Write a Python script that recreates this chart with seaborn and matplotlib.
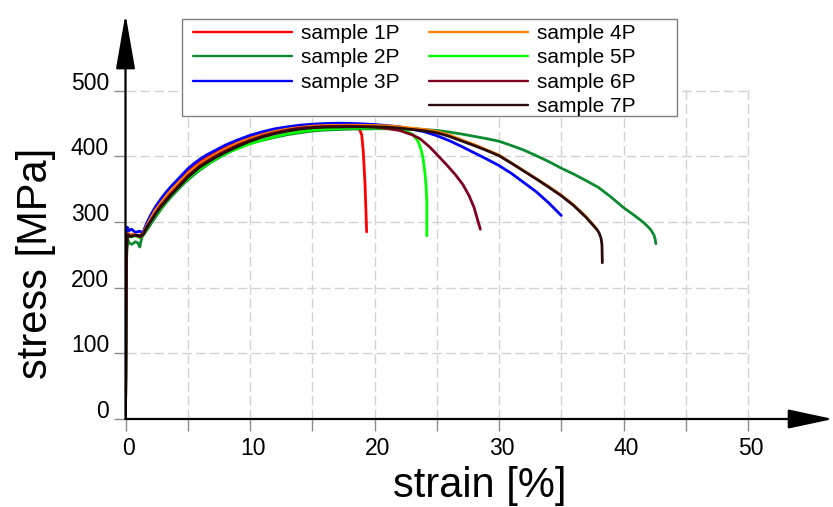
import numpy as np
import pandas as pd
import matplotlib
matplotlib.use("Agg")
import matplotlib.pyplot as plt
import seaborn as sns
from matplotlib.lines import Line2D
from matplotlib.patches import Rectangle
from matplotlib.transforms import ScaledTranslation

# ---------------- data ----------------
samples = ["sample 1P", "sample 2P", "sample 3P", "sample 4P",
           "sample 5P", "sample 6P", "sample 7P"]
colors = ["#ff0000", "#0b8a2f", "#0000ff", "#ff8000",
          "#00ff00", "#800020", "#2b0b0b"]

strain_1P = [0, 0.08, 0.15, 0.3, 0.6, 0.9, 1.2, 1.45, 1.7, 2.0, 2.4, 2.8, 3.2, 3.6, 4.1, 4.6,
             5.0, 5.5, 6.0, 6.5, 7.2, 8.0, 9.0, 10, 11, 12, 13, 14, 15, 16, 17, 17.8, 18.4,
             18.7, 18.84, 18.97, 19.1, 19.24, 19.37]
stress_1P = [0, 250, 284, 280, 281, 279, 280, 282, 295, 307, 320, 331, 341, 350, 360, 370,
             378, 386, 393, 399, 406, 414, 422, 430, 435, 440, 443, 445.5, 447, 447.5, 447.5,
             446.5, 445, 443, 439, 433, 407, 357, 285]

strain_2P = [0, 0.08, 0.15, 0.3, 0.5, 0.8, 1.0, 1.15, 1.3, 1.5, 1.8, 2.1, 2.5, 2.8, 3.2, 3.6,
             4.1, 4.6, 5.0, 5.5, 6.0, 6.8, 7.6, 8.5, 9.3, 10, 11, 12, 13, 14, 15, 16, 18, 20,
             22, 23.5, 25, 26, 27, 28, 29, 30, 31, 32, 33, 34, 35, 36, 37, 38, 39, 40, 40.8,
             41.5, 41.9, 42.2, 42.45, 42.55, 42.6]
stress_2P = [0, 240, 275, 268, 266, 270, 268, 262, 276, 282, 290, 299, 310, 318, 328, 337,
             347, 357, 364, 372, 379.5, 390, 399, 408, 415, 420, 424.5, 429, 433, 436, 438.5,
             440, 441.5, 442, 442, 441.5, 439.5, 437, 434, 430.5, 427, 423, 416.5, 409.5, 401,
             392, 382, 373, 363, 352.5, 338, 322, 311, 301, 294, 288, 280, 273, 267]

strain_3P = [0, 0.08, 0.15, 0.3, 0.5, 0.8, 1.1, 1.4, 1.7, 2.0, 2.4, 2.8, 3.2, 3.6, 4.1, 4.6,
             5.0, 5.5, 6.0, 6.5, 7.2, 8.0, 9.0, 10, 11, 12, 13, 14, 15, 16, 17, 18, 19, 20, 21,
             22, 23, 24, 25, 26, 27, 28, 29, 30, 31, 32, 33, 34, 35]
stress_3P = [0, 260, 292, 287, 289, 284, 286, 284, 298, 310, 323, 334, 344, 353, 363, 373,
             381, 389, 396, 402, 409, 417, 425, 432, 437.5, 442, 445, 447.5, 449, 450, 450.5,
             450.3, 449.5, 448.5, 447, 445, 441.5, 437.5, 431.5, 424, 415, 405.5, 396, 386,
             374, 360, 346, 329, 310]

strain_4P = [0, 0.1, 0.2, 0.4, 0.7, 1.0, 1.4, 1.7, 2.0, 2.4, 2.8, 3.2, 3.6, 4.1, 4.6, 5.0,
             5.5, 6.0, 6.5, 7.2, 8, 9, 10, 11, 12, 13, 14, 15, 16, 18, 20, 21, 22, 23, 24, 25,
             26, 27, 28, 29, 30, 31, 32, 33, 34, 35, 36, 37, 37.85]
stress_4P = [0, 270, 283, 279, 281, 279, 282, 294, 305, 318, 328, 338, 347, 357, 366, 374,
             382, 389, 395, 403, 411, 420, 427, 433, 438, 441.5, 444, 446, 447, 447.5, 447,
             446.5, 445, 443, 441, 438, 432.5, 425, 418, 410, 402, 390, 378, 366, 354, 341,
             326, 308, 289]

strain_5P = [0, 0.08, 0.15, 0.4, 0.8, 1.2, 1.45, 1.7, 2.0, 2.4, 2.8, 3.2, 3.6, 4.1, 4.6, 5.0,
             5.5, 6.0, 6.8, 7.6, 8.5, 9.3, 10, 11, 12, 13, 14, 15, 16, 18, 20, 21, 22, 22.6,
             23.1, 23.5, 23.75, 23.9, 24.05, 24.15, 24.2, 24.2]
stress_5P = [0, 250, 280, 277, 279, 276, 281, 290, 299, 311, 320, 330, 339, 349, 359, 366,
             374, 381, 391, 400, 408, 414, 419, 425, 430, 434.5, 437.5, 440, 441.5, 443, 443,
             442.5, 441.5, 438, 433, 423, 410, 397, 375, 352, 330, 279]

strain_6P = [0, 0.08, 0.15, 0.4, 0.8, 1.2, 1.45, 1.7, 2.0, 2.4, 2.8, 3.2, 3.6, 4.1, 4.6, 5.0,
             5.5, 6.0, 6.5, 7.2, 8, 9, 10, 11, 12, 13, 14, 15, 16, 18, 19, 20, 21, 22, 23,
             23.65, 24.45, 25.1, 25.8, 26.5, 27.1, 27.6, 28.0, 28.3, 28.5]
stress_6P = [0, 255, 282, 278, 280, 277, 282, 292, 301, 313, 324, 333, 342, 352, 362, 370,
             378, 386, 392, 400, 408, 417, 424.5, 431, 436, 440, 443, 444.5, 445.5, 446, 445.5,
             444.5, 442.5, 439.5, 433, 427, 414, 401, 387, 372, 357, 340, 322, 302, 289]

strain_7P = [0, 0.08, 0.15, 0.4, 0.8, 1.2, 1.45, 1.7, 2.0, 2.4, 2.8, 3.2, 3.6, 4.1, 4.6, 5.0,
             5.5, 6.0, 6.5, 7.2, 8, 9, 10, 11, 12, 13, 14, 15, 16, 18, 20, 21, 22, 23, 24, 25,
             26, 27, 28, 29, 30, 31, 32, 33, 34, 35, 36, 37, 37.85, 38.05, 38.2, 38.27, 38.3]
stress_7P = [0, 255, 280, 278, 280, 279, 282, 291, 300, 312, 322, 331, 340, 350, 360, 368,
             376, 384, 390, 398, 406, 415, 423, 429.5, 434.5, 438.5, 441.5, 443.5, 444.5, 445,
             445, 444.5, 443, 441, 439, 436, 430.5, 423.5, 416.5, 409, 401, 389.5, 377.5,
             365.5, 353, 340, 325, 307, 289, 283, 275, 265, 238]

x_ticks = [0, 10, 20, 30, 40, 50]
x_minor = [5, 15, 25, 35, 45]
y_ticks = [0, 100, 200, 300, 400, 500]

strains = [strain_1P, strain_2P, strain_3P, strain_4P, strain_5P, strain_6P, strain_7P]
stresses = [stress_1P, stress_2P, stress_3P, stress_4P, stress_5P, stress_6P, stress_7P]
frames = []
for name, xs, ys in zip(samples, strains, stresses):
    frames.append(pd.DataFrame({"strain": xs, "stress": ys, "sample": name}))
df = pd.concat(frames, ignore_index=True)

# ---------------- figure ----------------
sns.set_style("white")
plt.rcParams["font.family"] = ["Liberation Sans", "DejaVu Sans"]
plt.rcParams["text.color"] = "black"
plt.rcParams["axes.labelcolor"] = "black"
plt.rcParams["xtick.color"] = "black"
plt.rcParams["ytick.color"] = "black"

W, H = 833, 507
fig = plt.figure(figsize=(W / 100, H / 100), dpi=100)
fig.patch.set_facecolor("white")

x0px, x50px = 125.5, 748.0
y0px, y500px = 419.0, 90.7
sx = (x50px - x0px) / 50.0
sy = (y0px - y500px) / 500.0
xmax = (W - x0px) / sx
ymax = (y0px - 14) / sy

ax = fig.add_axes([x0px / W, (H - y0px) / H, (W - x0px) / W, (y0px - 14) / H])
ax.set_xlim(0, xmax)
ax.set_ylim(0, ymax)
ax.set_facecolor("white")

# grid (limited region)
grid_kw = dict(colors="#d2d2d2", linestyles=(0, (7, 3)), linewidth=1.0, zorder=0)
ax.vlines(x_minor + x_ticks[1:], 0, 505.5, **grid_kw)
ax.hlines(y_ticks[1:], 0, 50, **grid_kw)

sns.lineplot(data=df, x="strain", y="stress", hue="sample", hue_order=samples,
             palette=colors, sort=False, estimator=None, units="sample",
             linewidth=2.0, legend=False, ax=ax, zorder=3)

for s in ax.spines.values():
    s.set_visible(False)

# axes arrows
ax.annotate("", xy=(xmax, 0), xytext=(0, 0), annotation_clip=False, zorder=5,
            arrowprops=dict(arrowstyle="-|>,head_length=1.40,head_width=0.30",
                            mutation_scale=20, lw=1.6, color="black",
                            shrinkA=0, shrinkB=0))
ax.annotate("", xy=(0, ymax), xytext=(0, 0), annotation_clip=False, zorder=5,
            arrowprops=dict(arrowstyle="-|>,head_length=1.72,head_width=0.30",
                            mutation_scale=20, lw=1.6, color="black",
                            shrinkA=0, shrinkB=0))

# ticks
ax.set_xticks(x_ticks)
ax.set_xticks(x_minor, minor=True)
ax.set_yticks(y_ticks)
ax.set_xticklabels([str(v) for v in x_ticks])
ax.set_yticklabels([str(v) for v in y_ticks])
ax.tick_params(axis="both", which="both", length=8.8, width=1.0, color="#8c8c8c",
               direction="out", labelsize=16.5, labelcolor="black",
               bottom=True, left=True)
ax.tick_params(axis="x", which="both", pad=4.5)
ax.tick_params(axis="y", which="both", pad=3.0)
for lab in ax.get_yticklabels():
    lab.set_transform(lab.get_transform() + ScaledTranslation(0, 0.10, fig.dpi_scale_trans))
for lab in ax.get_xticklabels():
    lab.set_transform(lab.get_transform() + ScaledTranslation(0.03, 0, fig.dpi_scale_trans))

# axis labels
ax.set_xlabel("strain [%]", fontsize=30, color="black")
ax.set_ylabel("stress [MPa]", fontsize=30, color="black")
ax.xaxis.set_label_coords((480 - x0px) / (W - x0px), (y0px - 466) / (y0px - 14))
ax.yaxis.set_label_coords((56 - x0px) / (W - x0px), (y0px - 263) / (y0px - 14))

# legend box
box = Rectangle((182 / W, 1 - 116 / H), (677 - 182) / W, (116 - 19) / H,
                transform=fig.transFigure, facecolor="white", edgecolor="#7f7f7f",
                linewidth=1.0, zorder=5.5, clip_on=False)
ax.add_patch(box)

handles = [Line2D([], [], color=c, lw=1.7) for c in colors]
blank = Line2D([], [], color="none")
leg_handles = handles[:3] + [blank] + handles[3:]
leg_labels = samples[:3] + [""] + samples[3:]
leg = ax.legend(leg_handles, leg_labels, ncol=2, loc="upper left",
                bbox_to_anchor=(193 / W, 1 - 24 / H), bbox_transform=fig.transFigure,
                frameon=False, fontsize=15, handlelength=4.75,
                handletextpad=0.43, columnspacing=1.4, labelspacing=0.26,
                borderpad=0.0, borderaxespad=0)
for t in leg.get_texts():
    t.set_color("black")
leg.set_zorder(6)

fig.savefig("out.png", dpi=100)
